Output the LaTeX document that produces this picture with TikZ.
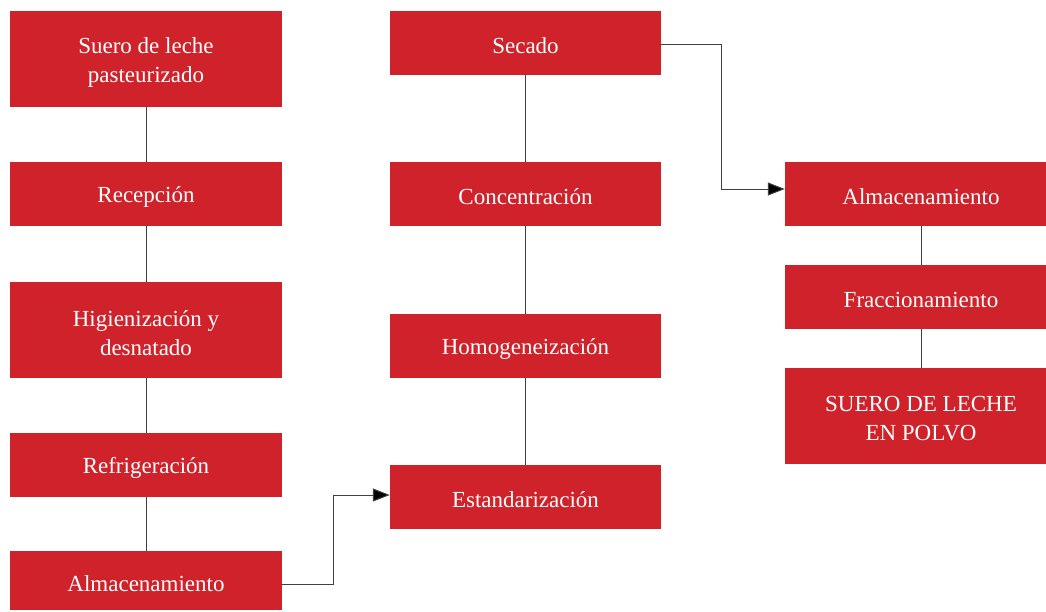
\documentclass[tikz,border=0pt]{standalone}
\usepackage{fontspec}
\setmainfont{Liberation Serif}
\usetikzlibrary{arrows.meta}
\definecolor{boxred}{RGB}{208,34,42}
\tikzset{
  stepbox/.style={fill=boxred, draw=none, inner sep=0pt},
  steptext/.style={text=white, inner sep=0pt, align=center, yshift=-3pt,
    font=\fontsize{23}{29}\selectfont},
  conn/.style={draw=black!75, line width=1pt},
  arr/.style={conn, -{Triangle[length=17pt,width=13pt,fill=black]}}
}
\newcommand{\boxat}[6]{% name, x1, y1, x2, y2, text
  \node[stepbox, minimum width={#4-#2}, minimum height={#5-#3},
    label={[steptext]center:{#6}}] (#1) at ({(#2+#4)/2},{(#3+#5)/2}) {};}
\begin{document}
\begin{tikzpicture}[x=1pt,y=-1pt]
\useasboundingbox (0,0) rectangle (1046,611);
\begin{scope}
\clip (0,0) rectangle (1046,611);
\boxat{a1}{10}{11}{282}{107}{Suero de leche\\pasteurizado}
\boxat{a2}{10}{162}{282}{226}{Recepción}
\boxat{a3}{10}{282}{282}{378}{Higienización y\\desnatado}
\boxat{a4}{10}{433}{282}{497}{Refrigeración}
\boxat{a5}{10}{551}{282}{610}{Almacenamiento}
\boxat{b1}{390}{11}{661}{75}{Secado}
\boxat{b2}{390}{162}{661}{226}{Concentración}
\boxat{b3}{390}{314}{661}{378}{Homogeneización}
\boxat{b4}{390}{465}{661}{529}{Estandarización}
\boxat{c1}{785}{162}{1057}{226}{Almacenamiento}
\boxat{c2}{785}{265}{1057}{329}{Fraccionamiento}
\boxat{c3}{785}{368}{1057}{464}{SUERO DE LECHE\\EN POLVO}
\end{scope}
\draw[conn] (a1) -- (a2);
\draw[conn] (a2) -- (a3);
\draw[conn] (a3) -- (a4);
\draw[conn] (a4) -- (a5);
\draw[conn] (b1) -- (b2);
\draw[conn] (b2) -- (b3);
\draw[conn] (b3) -- (b4);
\draw[conn] (c1) -- (c2);
\draw[conn] (c2) -- (c3);
\coordinate (k1) at (333,584);
\coordinate (k2) at (333,495);
\draw[arr] (a5.east |- k1) -- (k1) -- (k2) -- (b4.west |- k2);
\coordinate (m1) at (721,44);
\coordinate (m2) at (721,189);
\draw[arr] (b1.east |- m1) -- (m1) -- (m2) -- (c1.west |- m2);
\end{tikzpicture}
\end{document}
